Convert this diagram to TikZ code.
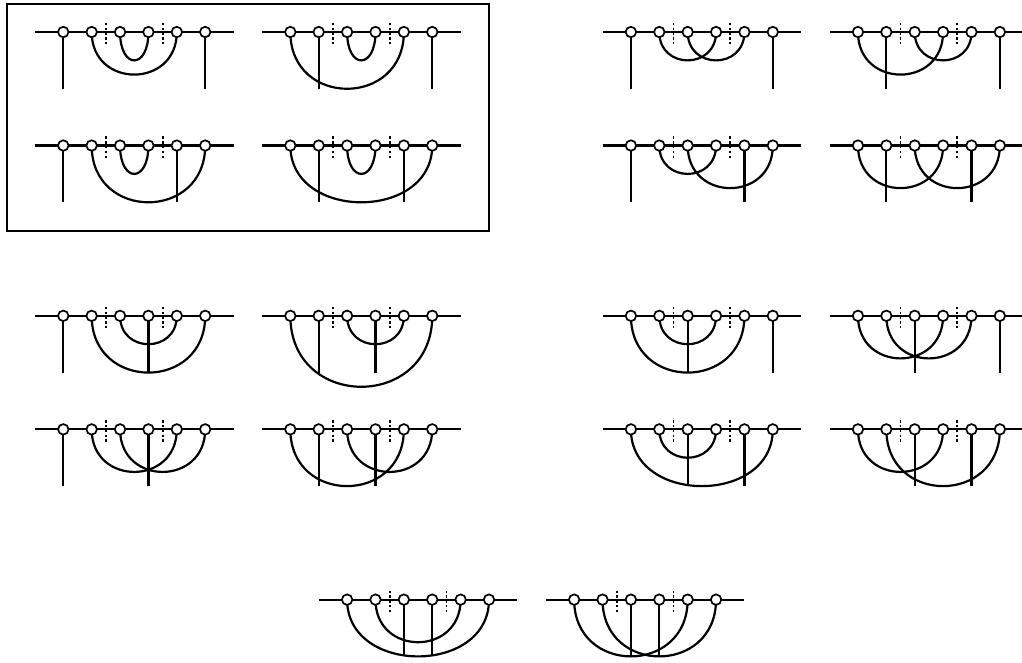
\documentclass[tikz,border=0pt]{standalone}
\tikzset{
  edge/.style={line width=2.2pt},
  dotline/.style={line width=1.8pt, dash pattern=on 2.4pt off 2.4pt},
  vtx/.style={circle, draw, fill=white, line width=1.7pt, minimum size=0.37cm, inner sep=0pt},
  frame/.style={line width=2pt}
}
\newcommand{\dgm}[4]{%
  \begin{scope}[shift={#2}]
    \foreach \i in {1,...,6} \coordinate (#1v\i) at (\i-1,0);
    \coordinate (#1L) at (-1,0);
    \coordinate (#1R) at (6,0);
    \draw[edge] (#1L) -- (#1R);
    \coordinate (#1da) at (1.5,0.32); \coordinate (#1db) at (1.5,-0.45);
    \coordinate (#1dc) at (3.5,0.32); \coordinate (#1dd) at (3.5,-0.45);
    \draw[dotline] (#1da) -- (#1db);
    \draw[dotline] (#1dc) -- (#1dd);
    \foreach \i in {#3} {\coordinate (#1f\i) at (\i-1,-2); \draw[edge] (#1v\i) -- (#1f\i);}
    \foreach \a/\b/\dep in {#4} \draw[edge] (#1v\a) .. controls +(0,{-1.33333*\dep}) and +(0,{-1.33333*\dep}) .. (#1v\b);
    \foreach \i in {1,...,6} \node[vtx] (#1n\i) at (#1v\i) {};
  \end{scope}}
\begin{document}
\begin{tikzpicture}
\useasboundingbox (-2.23,1.128) rectangle (33.78,-22.2);
\coordinate (boxA) at (-2,1);
\coordinate (boxB) at (15,-7);
\draw[frame] (boxA) rectangle (boxB);
\dgm{A}{(0,0)}{1,6}{2/5/1.5,3/4/1}
\dgm{B}{(8,0)}{2,6}{1/5/2,3/4/1}
\dgm{C}{(0,-4)}{1,5}{2/6/2,3/4/1}
\dgm{D}{(8,-4)}{2,5}{1/6/2,3/4/1}
\dgm{E}{(20,0)}{1,6}{2/4/1,3/5/1}
\dgm{F}{(28,0)}{2,6}{1/4/1.5,3/5/1}
\dgm{G}{(20,-4)}{1,5}{2/4/1,3/6/1.5}
\dgm{H}{(28,-4)}{2,5}{1/4/1.5,3/6/1.5}
\dgm{I}{(0,-10)}{1,4}{2/6/2,3/5/1}
\dgm{J}{(8,-10)}{2,4}{1/6/2.5,3/5/1}
\dgm{K}{(0,-14)}{1,4}{2/5/1.5,3/6/1.5}
\dgm{M}{(8,-14)}{2,4}{1/5/2,3/6/1.5}
\dgm{N}{(20,-10)}{3,6}{1/5/2,2/4/1}
\dgm{P}{(28,-10)}{3,6}{1/4/1.5,2/5/1.5}
\dgm{Q}{(20,-14)}{3,5}{1/6/2,2/4/1}
\dgm{R}{(28,-14)}{3,5}{1/4/1.5,2/6/2}
\dgm{S}{(10,-20)}{3,4}{1/6/2,2/5/1.5}
\dgm{T}{(18,-20)}{3,4}{1/5/2,2/6/2}
\end{tikzpicture}
\end{document}
